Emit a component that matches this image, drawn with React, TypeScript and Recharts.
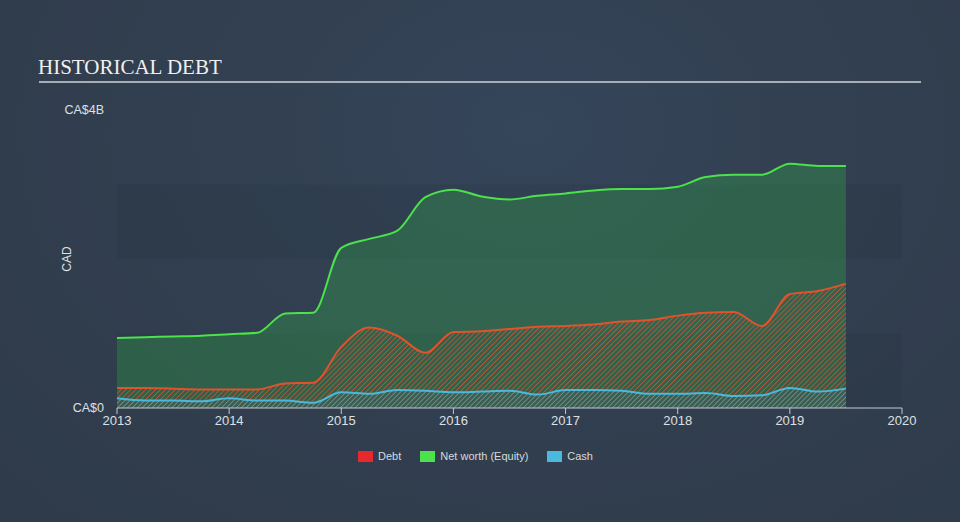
import {
  AreaChart,
  Area,
  XAxis,
  YAxis,
  ReferenceArea,
} from "recharts";

// quarterly points, fractional years
const periods = [
  2013, 2013.25, 2013.5, 2013.75, 2014, 2014.25, 2014.5, 2014.75, 2015,
  2015.25, 2015.5, 2015.75, 2016, 2016.25, 2016.5, 2016.75, 2017, 2017.25,
  2017.5, 2017.75, 2018, 2018.25, 2018.5, 2018.75, 2019, 2019.25, 2019.5,
];

// values in CA$ billions
const equity = [
  0.94, 0.95, 0.96, 0.97, 0.99, 1.01, 1.27, 1.28, 2.15, 2.27, 2.38, 2.83,
  2.93, 2.84, 2.8, 2.85, 2.88, 2.92, 2.94, 2.94, 2.97, 3.1, 3.13, 3.13, 3.28,
  3.25, 3.25,
];
const debt = [
  0.27, 0.27, 0.26, 0.25, 0.25, 0.25, 0.33, 0.34, 0.82, 1.08, 0.97, 0.74,
  1.02, 1.03, 1.06, 1.09, 1.1, 1.12, 1.16, 1.18, 1.24, 1.28, 1.29, 1.1, 1.53,
  1.57, 1.67,
];
const cash = [
  0.13, 0.1, 0.1, 0.09, 0.13, 0.1, 0.1, 0.07, 0.21, 0.19, 0.24, 0.23, 0.21,
  0.22, 0.23, 0.18, 0.24, 0.24, 0.23, 0.19, 0.19, 0.2, 0.16, 0.17, 0.27, 0.22,
  0.26,
];

const yearTicks = [2013, 2014, 2015, 2016, 2017, 2018, 2019, 2020];
const valueTicks = [0, 4];

const legendItems = [
  { label: "Debt", color: "#e8282b" },
  { label: "Net worth (Equity)", color: "#4be24b" },
  { label: "Cash", color: "#4bb9dd" },
];

const data = periods.map((t, i) => ({
  t,
  equity: equity[i],
  debt: debt[i],
  cash: cash[i],
}));

const sans = "'Liberation Sans', Arial, sans-serif";

export default function App() {
  return (
    <div
      style={{
        position: "absolute",
        left: 0,
        top: 0,
        width: 960,
        height: 522,
        background:
          "radial-gradient(ellipse at 55% 25%, #35455a 0%, #323f50 45%, #2f3b4a 100%)",
        overflow: "hidden",
      }}
    >
      <div
        style={{
          position: "absolute",
          left: 38,
          top: 55,
          fontFamily: "'Liberation Serif', 'Times New Roman', serif",
          fontSize: 21,
          color: "#f0f0f0",
          lineHeight: "24px",
        }}
      >
        HISTORICAL DEBT
      </div>
      <div
        style={{
          position: "absolute",
          left: 39,
          top: 81,
          width: 882,
          height: 2,
          background: "#a8aeb6",
        }}
      />
      <div style={{ position: "absolute", left: 0, top: 0 }}>
        <AreaChart
          width={960}
          height={522}
          data={data}
          margin={{ top: 110, right: 58, bottom: 84, left: 57 }}
        >
          <defs>
            <pattern
              id="debtHatch"
              patternUnits="userSpaceOnUse"
              width="3.5"
              height="3.5"
              patternTransform="rotate(45)"
            >
              <line x1="0" y1="0" x2="0" y2="3.5" stroke="#d9552e" strokeWidth="1.7" strokeOpacity="0.85" />
            </pattern>
            <pattern
              id="cashHatch"
              patternUnits="userSpaceOnUse"
              width="3.5"
              height="3.5"
              patternTransform="rotate(45)"
            >
              <rect x="0" y="0" width="3.5" height="3.5" fill="#3a5f58" fillOpacity="0.6" />
              <line x1="0" y1="0" x2="0" y2="3.5" stroke="#7a9ea3" strokeWidth="1.6" strokeOpacity="0.75" />
            </pattern>
          </defs>
          <ReferenceArea
            x1={2013}
            x2={2020}
            y1={0}
            y2={1}
            fill="#1e2733"
            fillOpacity={0.14}
            stroke="none"
          />
          <ReferenceArea
            x1={2013}
            x2={2020}
            y1={2}
            y2={3}
            fill="#1e2733"
            fillOpacity={0.14}
            stroke="none"
          />
          <XAxis
            dataKey="t"
            type="number"
            domain={[2013, 2020]}
            ticks={yearTicks}
            tickFormatter={(v: number) => String(v)}
            stroke="#c3c8cf"
            tickSize={6}
            tick={{ fill: "#dde0e4", fontSize: 13, fontFamily: sans }}
            height={30}
          />
          <YAxis
            type="number"
            domain={[0, 4]}
            ticks={valueTicks}
            width={60}
            axisLine={false}
            tickLine={false}
            tickSize={0}
            tickMargin={13}
            tickFormatter={(v: number) => (v === 0 ? "CA$0" : `CA$${v}B`)}
            tick={{ fill: "#dde0e4", fontSize: 12.5, fontFamily: sans }}
            label={{
              content: ({ viewBox }: any) => {
                const cy = viewBox.y + viewBox.height / 2;
                return (
                  <text
                    x={71}
                    y={cy}
                    transform={`rotate(-90, 71, ${cy})`}
                    textAnchor="middle"
                    fill="#dde0e4"
                    fontSize={12}
                    fontFamily={sans}
                  >
                    CAD
                  </text>
                );
              },
            }}
          />
          <Area
            type="monotone"
            dataKey="equity"
            stroke="#4be24b"
            strokeWidth={2}
            fill="#33d04a"
            fillOpacity={0.25}
            isAnimationActive={false}
            dot={false}
            activeDot={false}
          />
          <Area
            type="monotone"
            dataKey="debt"
            stroke="#e0532c"
            strokeWidth={2}
            fill="url(#debtHatch)"
            fillOpacity={1}
            isAnimationActive={false}
            dot={false}
            activeDot={false}
          />
          <Area
            type="monotone"
            dataKey="cash"
            stroke="#4bb9dd"
            strokeWidth={2}
            fill="url(#cashHatch)"
            fillOpacity={1}
            isAnimationActive={false}
            dot={false}
            activeDot={false}
          />
        </AreaChart>
      </div>
      <div
        style={{
          position: "absolute",
          left: 0,
          top: 450,
          width: 951,
          display: "flex",
          justifyContent: "center",
          gap: 19,
          fontFamily: sans,
          fontSize: 11,
          color: "#d6d9dd",
        }}
      >
        {legendItems.map((item) => (
          <div
            key={item.label}
            style={{ display: "flex", alignItems: "center", gap: 5 }}
          >
            <span
              style={{
                display: "inline-block",
                width: 15,
                height: 11,
                background: item.color,
              }}
            />
            <span>{item.label}</span>
          </div>
        ))}
      </div>
    </div>
  );
}
